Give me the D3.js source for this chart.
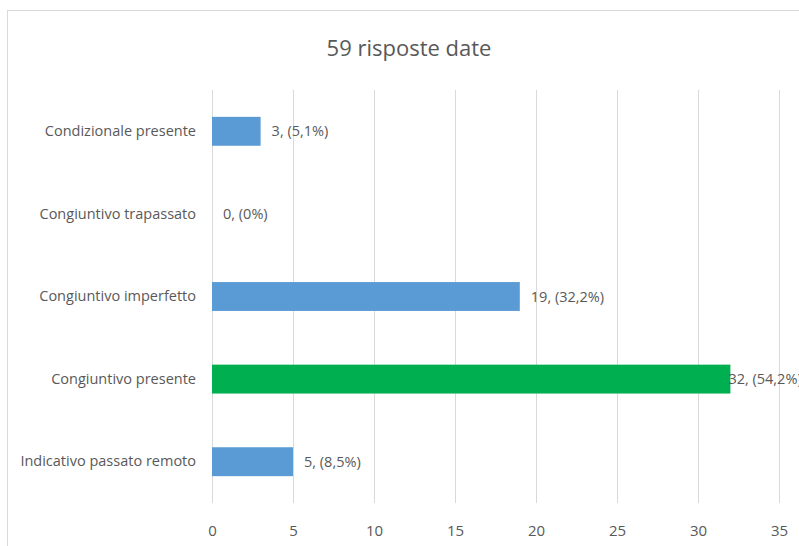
<!DOCTYPE html>
<html>
<head>
<meta charset="utf-8">
<script src="https://cdn.jsdelivr.net/npm/d3@7"></script>
<style>
  html, body { margin: 0; padding: 0; background: #fff; overflow: hidden; }
  svg { display: block; }
  text { font-family: "Open Sans", "Noto Sans", sans-serif; fill: #595959; }
</style>
</head>
<body>
<svg id="chart" width="799" height="546"></svg>
<script>
// Answer counts per verb form (total 59 responses)
const categories = [
  "Condizionale presente",
  "Congiuntivo trapassato",
  "Congiuntivo imperfetto",
  "Congiuntivo presente",
  "Indicativo passato remoto"
];
const counts = [3, 0, 19, 32, 5];
const percents = ["5,1%", "0%", "32,2%", "54,2%", "8,5%"];
const correct = [false, false, false, true, false];
const xTicks = [0, 5, 10, 15, 20, 25, 30, 35];
const title = "59 risposte date";

const W = 799, H = 546;
const svg = d3.select("#chart");

// outer chart frame
svg.append("rect")
  .attr("x", 7.5).attr("y", 10.5)
  .attr("width", 900).attr("height", 700)
  .attr("fill", "#fff").attr("stroke", "#d9d9d9").attr("stroke-width", 1);

svg.append("text")
  .attr("x", 409).attr("y", 56)
  .attr("text-anchor", "middle")
  .attr("font-size", 22)
  .text(title);

const plot = { left: 212, right: 779, top: 90, bottom: 503 };

const x = d3.scaleLinear().domain([0, 35]).range([plot.left, plot.right]);
const y = d3.scaleBand().domain(categories).range([plot.top, plot.bottom]).paddingInner(0.65).paddingOuter(0.325);

// vertical gridlines
svg.append("g").selectAll("line").data(xTicks).join("line")
  .attr("x1", d => Math.round(x(d)) + 0.5).attr("x2", d => Math.round(x(d)) + 0.5)
  .attr("y1", plot.top).attr("y2", plot.bottom)
  .attr("stroke", "#d9d9d9").attr("stroke-width", 1);

// x axis tick labels
const xAxis = d3.axisBottom(x).tickValues(xTicks).tickSize(0).tickPadding(0);
const gx = svg.append("g").attr("transform", `translate(0,${plot.bottom + 22})`).call(xAxis);
gx.select(".domain").remove();
gx.selectAll("text").attr("font-size", 15).attr("fill", "#595959")
  .style("font-family", '"Open Sans", "Noto Sans", sans-serif').attr("dy", "0.71em");

// category labels
const yAxis = d3.axisLeft(y).tickSize(0).tickPadding(16);
const gy = svg.append("g").attr("transform", `translate(${plot.left},0)`).call(yAxis);
gy.select(".domain").remove();
gy.selectAll("text").attr("font-size", 14.5).attr("fill", "#595959")
  .style("font-family", '"Open Sans", "Noto Sans", sans-serif');

const rows = categories.map((c, i) => ({ c, v: counts[i], p: percents[i], ok: correct[i] }));

// bars
svg.append("g").selectAll("rect").data(rows).join("rect")
  .attr("x", x(0))
  .attr("y", d => y(d.c))
  .attr("width", d => x(d.v) - x(0))
  .attr("height", y.bandwidth())
  .attr("fill", d => d.ok ? "#00b050" : "#5b9bd5");

// value labels
svg.append("g").selectAll("text").data(rows).join("text")
  .attr("x", d => {
    const lx = x(d.v) + 11;
    return lx + 70 > W ? x(d.v) - 2 : lx;
  })
  .attr("y", d => y(d.c) + y.bandwidth() / 2)
  .attr("dy", "0.35em")
  .attr("font-size", 14.5)
  .text(d => `${d.v}, (${d.p})`);
</script>
</body>
</html>
